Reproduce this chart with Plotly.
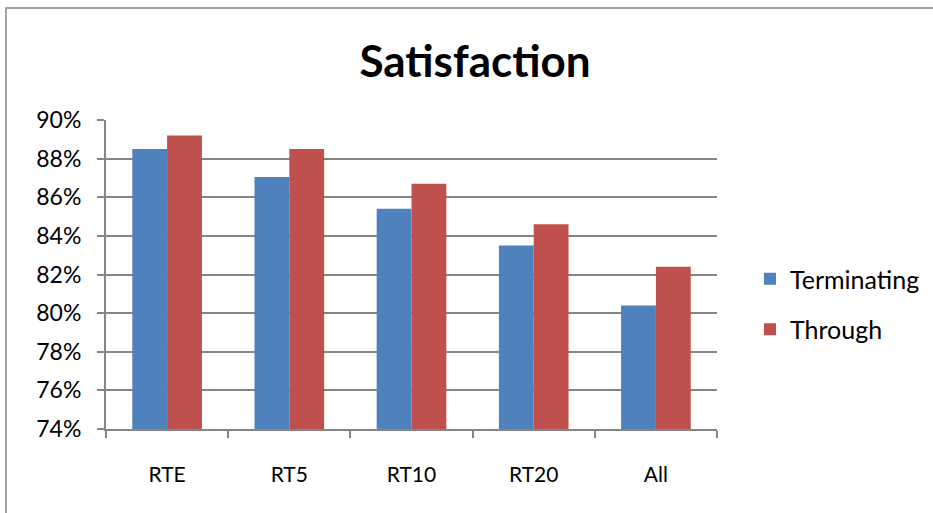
import plotly.graph_objects as go

categories = ["RTE", "RT5", "RT10", "RT20", "All"]
terminating = [0.885, 0.8705, 0.854, 0.835, 0.804]
through = [0.892, 0.885, 0.867, 0.846, 0.824]
series_names = ["Terminating", "Through"]
y_ticks = [0.74, 0.76, 0.78, 0.80, 0.82, 0.84, 0.86, 0.88, 0.90]

FONT = "Lato"
GRID = "#868686"

fig = go.Figure()
fig.add_trace(go.Bar(x=categories, y=terminating, name=series_names[0],
                     marker=dict(color="#4F81BD", line=dict(width=0)),
                     legendgroup="a"))
fig.add_trace(go.Bar(x=categories, y=through, name=series_names[1],
                     marker=dict(color="#C0504D", line=dict(width=0)),
                     legendgroup="b"))

W, H = 933, 513
L, R, T, B = 106, W - 717, 120, H - 429
pw, ph = W - L - R, H - T - B

def px_x(x):
    return (x - L) / pw

def px_y(y):
    return (H - B - y) / ph

fig.update_layout(
    width=W, height=H,
    margin=dict(l=L, r=R, t=T, b=B, pad=0, autoexpand=False),
    paper_bgcolor="white", plot_bgcolor="white",
    barmode="group", bargap=0.43, bargroupgap=0,
    font=dict(family=FONT, size=22, color="black"),
    title=dict(text="<b>Satisfaction</b>", x=475 / W, xanchor="center",
               y=1 - 62 / H, yanchor="middle", yref="container",
               font=dict(family=FONT, size=44, color="black")),
    legend=dict(x=px_x(750), y=px_y(304), xanchor="left", yanchor="middle",
                traceorder="grouped", tracegroupgap=15,
                font=dict(family=FONT, size=25, color="black"),
                bgcolor="rgba(0,0,0,0)"),
    xaxis=dict(showline=True, linecolor=GRID, linewidth=2,
               ticks="outside", tickson="boundaries", ticklen=7,
               tickcolor=GRID, tickwidth=2, showgrid=False,
               tickfont=dict(size=21), ticklabelstandoff=26),
    yaxis=dict(range=[0.74, 0.90], tickvals=y_ticks, tickformat=".0%",
               showline=True, linecolor=GRID, linewidth=2,
               ticks="outside", ticklen=7, tickcolor=GRID, tickwidth=2,
               showgrid=True, gridcolor=GRID, gridwidth=2,
               tickfont=dict(size=23),
               zeroline=False, ticklabelstandoff=11),
    shapes=[dict(type="rect", xref="paper", yref="paper",
                 x0=px_x(6), x1=px_x(960), y0=px_y(8), y1=px_y(540),
                 line=dict(color=GRID, width=1.5), layer="below")],
)

fig.write_html(
    "out.html",
    config={"displayModeBar": False},
    post_script="document.body.style.margin='0';document.body.style.overflow='hidden';",
)
